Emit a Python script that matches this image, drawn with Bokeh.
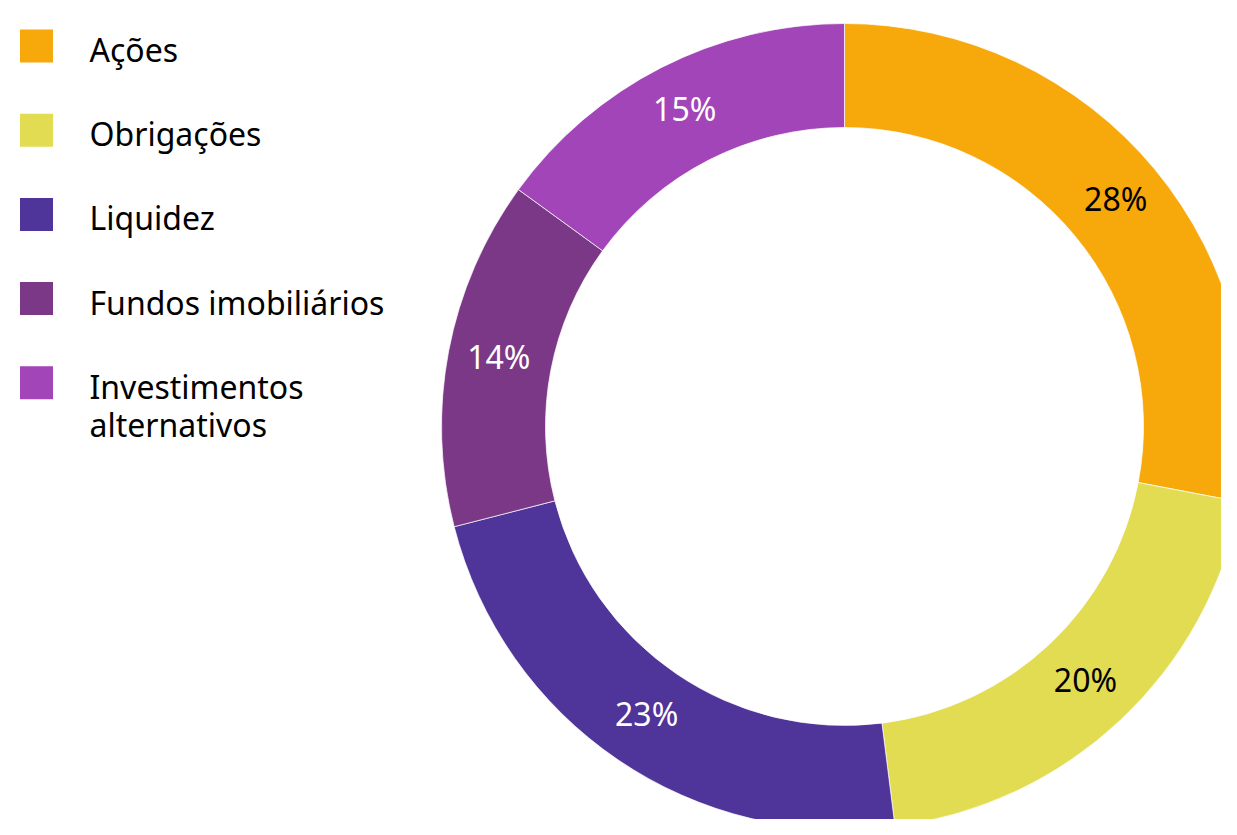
import numpy as np
from bokeh.plotting import figure
from bokeh.models import Range1d, ColumnDataSource
from bokeh.core.properties import value
from bokeh.embed import file_html
from bokeh.resources import INLINE

categories = ["Ações", "Obrigações", "Liquidez", "Fundos imobiliários", "Investimentos\nalternativos"]
shares = [28, 20, 23, 14, 15]
colors = ["#F7A80A", "#E2DC52", "#4F3499", "#7B3886", "#A245B8"]
label_colors = ["black", "black", "white", "white", "white"]

W, H = 1221, 819
# pixel-like coordinates: y_data = H - y_screen
p = figure(width=W, height=H, output_backend="svg", toolbar_location=None,
           x_range=Range1d(0, W), y_range=Range1d(0, H), min_border=0)
p.axis.visible = False
p.grid.visible = False
p.outline_line_color = None
p.background_fill_color = "white"

cx, cy = 844, H - 426
r_in, r_out = 299, 403

vals = np.array(shares, dtype=float)
frac = vals / vals.sum()
cum = np.concatenate([[0], np.cumsum(frac)])
start = np.pi / 2 - 2 * np.pi * cum[:-1]
end = np.pi / 2 - 2 * np.pi * cum[1:]
mid = (start + end) / 2
r_mid = 352

src = ColumnDataSource(dict(start=start, end=end, color=colors,
                            lx=cx + r_mid * np.cos(mid), ly=cy + r_mid * np.sin(mid),
                            lab=[f"{v}%" for v in shares], lc=label_colors))
p.annular_wedge(x=cx, y=cy, inner_radius=r_in, outer_radius=r_out,
                start_angle="start", end_angle="end", direction="clock",
                fill_color="color", line_color="white", line_width=0.7, source=src)
p.text(x="lx", y="ly", text="lab", text_color="lc", text_font=value("Noto Sans"),
       text_font_size="32px", text_align="center", text_baseline="middle",
       y_offset=-4, source=src)

# legend
n = len(categories)
sq_centers = [45.5 + 84.2 * i for i in range(n)]
leg = ColumnDataSource(dict(x=[36.0] * n, y=[H - c for c in sq_centers], color=colors))
p.rect(x="x", y="y", width=33, height=33, fill_color="color", line_color=None, source=leg)

tx, ty, tt = [], [], []
for c, name in zip(sq_centers, categories):
    for k, line in enumerate(name.split("\n")):
        tx.append(89)
        ty.append(H - (c + 3.5 + 38 * k))
        tt.append(line)
lt = ColumnDataSource(dict(x=tx, y=ty, t=tt))
p.text(x="x", y="y", text="t", text_font=value("Noto Sans"), text_font_size="32px",
       text_color="black", text_align="left", text_baseline="middle", source=lt)

open("out.html", "w").write(file_html(p, INLINE))
